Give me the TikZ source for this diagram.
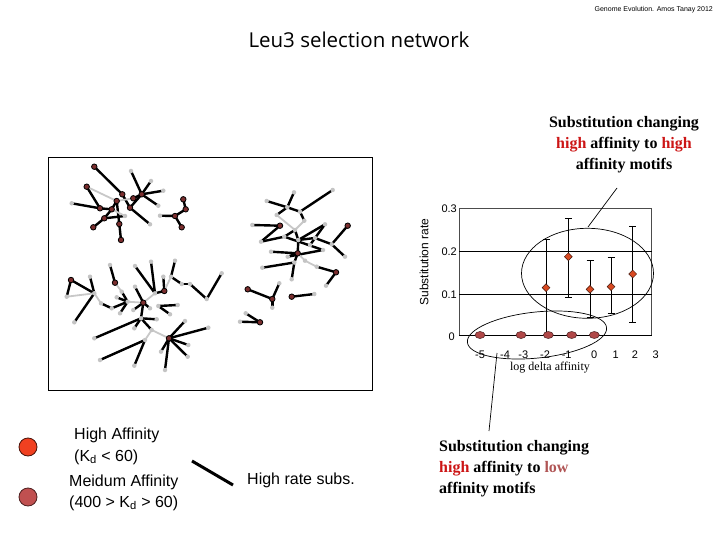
\documentclass[tikz,border=0pt]{standalone}
\usepackage{fontspec}
\setmainfont{Liberation Sans}
\newfontfamily\serifb{Liberation Serif}
\newfontfamily\titlef{Open Sans}
\usetikzlibrary{backgrounds,shapes.geometric}
\definecolor{nodered}{HTML}{7A2E2E}
\definecolor{nodegray}{HTML}{C4C4C4}
\definecolor{edgegray}{HTML}{C8C8C8}
\definecolor{hired}{HTML}{F04020}
\definecolor{medred}{HTML}{C05050}
\definecolor{diam}{HTML}{D84A22}
\definecolor{dotbrown}{HTML}{B04848}
\definecolor{txtred}{HTML}{CC1515}
\definecolor{txtlow}{HTML}{B05555}
\begin{document}
\begin{tikzpicture}[x=1pt,y=-1pt,
  dk/.style={circle,inner sep=0pt,minimum size=5.5pt,fill=nodered,draw=black,line width=0.8pt},
  gr/.style={circle,inner sep=0pt,minimum size=4.5pt,fill=nodegray},
  be/.style={line width=2.4pt,black,shorten <=-1pt,shorten >=-1pt},
  ge/.style={line width=1.8pt,edgegray,shorten <=-1pt,shorten >=-1pt},
  lab/.style={inner sep=0pt,font=\fontsize{16}{19}\selectfont},
  ttl/.style={inner sep=0pt,font=\serifb\bfseries\fontsize{16}{21}\selectfont},
  tick/.style={inner sep=0pt,font=\fontsize{11}{13}\selectfont},
  dia/.style={diamond,inner sep=0pt,minimum size=8pt,fill=diam,draw=black!70!diam,line width=0.5pt},
  bdot/.style={ellipse,inner sep=0pt,minimum width=10pt,minimum height=7pt,fill=dotbrown,draw=black!60!dotbrown,line width=0.5pt},
  err/.style={line width=0.8pt,black}]
\useasboundingbox (0,0) rectangle (720,540);

% header
\node[inner sep=0pt,anchor=east,font=\fontsize{7}{8}\selectfont] (hdr) at (713,10) {Genome Evolution. Amos Tanay 2012};
\node[inner sep=0pt,font=\titlef\fontsize{20.5}{24}\selectfont] (title) at (359,40) {Leu3 selection network};

% network box
\draw[line width=0.8pt] (48,157) rectangle (372,390);

% nodes
\foreach \n/\x/\y in {a1/94.3/166.7,a2/122.3/194.3,a3/86.7/186.7,a4/116.7/201,a5/100/208.3,a6/111.7/209.3,a7/104.3/218.3,a8/93.3/227.3,a9/119.3/224,a10/121/240,a11/133.3/198.3,a12/130/207.7,a13/141.7/194.3,b1/183.3/199.3,b2/185.7/209.3,b3/175/216,b4/181.7/227.3,
c9/280/225.7,c12/347.7/225.7,c19/297.7/253.3,c23/336/272.3,
d1/71/280,d9/115/282.7,d16/143.3/302.7,d22/164.3/291,d38/169/338.3,
e8/247.7/289.3,e9/272.3/299,e12/291.7/296.7,e16/260/322.3}
  \node[dk] (\n) at (\x,\y) {};
\foreach \n/\x/\y in {g1/131/171,g2/151/181,g3/163.3/190.7,g4/158.3/205.7,g5/71.7/203.3,g6/125/216,g7/150/224.3,g8/160/215.7,
c1/294/192.3,c2/332.7/190,c3/266.7/201,c4/287.3/207.3,c5/300/211.7,c6/276.7/215,c7/304.3/220.7,c8/252.3/225,c10/295/230,c11/325/224.3,c13/284.3/236.7,c14/261/241.7,c15/298.3/240,c16/331.7/244.3,c17/345/256.7,c18/271/251.7,c20/287.7/256.7,c21/262.3/267.7,c22/294.3/262.5,c24/323/250,c25/310/245,c26/315/238,
d2/66.7/296.7,d3/94.3/293.3,d4/90/276.7,d5/74.3/322.3,d6/101/303.3,d7/111.7/308.3,d8/110/265,d10/121.7/291.7,d11/116.7/297.3,d12/127.7/301.7,d13/120/313.3,d14/135/266,d15/135/286.7,d17/133.3/310,d18/150/308.3,d19/155/293.3,d20/151/261.7,d21/163.3/276.7,d23/171/276.7,d24/175/260.7,d25/181.7/284,d26/190/284,d27/206.7/299,d28/221.7/273.3,d29/158.3/306,d30/177.7/305,d31/170/314.3,d32/141/318.3,d33/156.7/319.3,d34/134.3/328.3,d35/94.3/338.3,d36/145/340,d37/151.7/330,d39/185/321,d40/208.3/327.7,d41/188.3/345,d42/187.7/356.7,d43/161/351.7,d44/165/370,d45/134.3/365.7,d46/100/360,
e3/291.7/279.3,e4/305/260.7,e5/316.7/266.7,e7/326/285.7,e10/279.3/283.3,e11/272.3/307.7,e13/314.3/294,e14/245.7/313.3,e15/240/321.7}
  \node[gr] (\n) at (\x,\y) {};

\begin{pgfonlayer}{background}
\foreach \u/\v in {a1/a2,a3/a5,g5/a5,a5/a6,a6/a7,a7/g6,a7/a8,a4/a6,a4/a9,a9/a10,a2/a12,a12/g7,a12/a13,a11/a13,a13/g1,a13/g2,a13/g3,a13/g4,
b3/b2,b2/b1,b3/b4,b3/g8,
c1/c4,c3/c4,c4/c6,c4/c5,c5/c2,c5/c7,c8/c9,c9/c14,c14/c13,c13/c10,c10/c15,c15/c11,c11/c25,c26/c15,c12/c16,c16/c17,c16/c26,c18/c19,c19/c15,c13/c24,c24/c20,c20/c19,c21/c22,c22/c19,e5/c23,
c23/e7,e8/e9,e9/e10,e9/e11,e12/e13,e14/e16,e15/e16,c22/e3,
d1/d2,d1/d3,d4/d3,d3/d5,d6/d7,d7/d12,d8/d9,d10/d12,d11/d12,d13/d12,d14/d19,d20/d19,d15/d16,d16/d17,d16/d18,d16/d32,d19/d22,d22/d21,d23/d24,d23/d25,d25/d26,d26/d27,d27/d28,d29/d30,d31/d29,d32/d33,d32/d35,d32/d34,d32/d37,d38/d39,d38/d40,d38/d41,d38/d42,d38/d43,d38/d44,d36/d46,d36/d45}
  \draw[be] (\u) -- (\v);
\foreach \u/\v in {a3/a4,a4/a11,a6/g6,d2/d3,d3/d6,d9/d10,d12/d16,d16/d19,d22/d23,d37/d38,d36/d37,c6/c10,c7/c10,c19/e4,e4/e5}
  \draw[ge] (\u) -- (\v);
\end{pgfonlayer}

% chart
\draw[line width=0.5pt,black!70] (459.3,208.3) rectangle (651.7,335);
\draw[line width=0.8pt] (459.3,251.7) -- (651.7,251.7);
\draw[line width=0.8pt] (459.3,294.3) -- (651.7,294.3);
\draw[line width=1pt] (459.3,335) -- (651.7,335);
\node[tick,anchor=east] (y3) at (457,208.3) {0.3};
\node[tick,anchor=east] (y2) at (457,251.7) {0.2};
\node[tick,anchor=east] (y1) at (457,294.3) {0.1};
\node[tick,anchor=east] (y0) at (455,336.5) {0};
\node[inner sep=0pt,rotate=90,font=\fontsize{12}{14}\selectfont] (ylab) at (424,262) {Substitution rate};
\foreach \n/\x/\t in {xa/480/-5,xb/505/-4,xc/523.3/-3,xd/545/-2,xe/566.7/-1,xf/594.3/0,xg/615.7/1,xh/635/2,xi/655.7/3}
  \node[tick] (\n) at (\x,355) {\t};
\node[inner sep=0pt,font=\serifb\fontsize{12}{14}\selectfont] (xlab) at (550,367.5) {log delta affinity};

% error bars
\draw[err] (546,239) -- (546,335);
\draw[err] (542.5,239) -- (549.5,239);
\foreach \x/\a/\b in {568.3/218.3/297.3,590/260.7/317.7,611/257.3/313.3,632.7/226/322.3}{
  \draw[err] (\x,\a) -- (\x,\b);
  \draw[err] (\x-3.5,\a) -- (\x+3.5,\a);
  \draw[err] (\x-3.5,\b) -- (\x+3.5,\b);
}
\foreach \n/\x/\y in {p1/546/287.7,p2/568.3/256.7,p3/590/289.3,p4/611/286.7,p5/632.7/274}
  \node[dia] (\n) at (\x,\y) {};
\foreach \n/\x in {q1/480,q2/521,q3/548.3,q4/571.7,q5/594.3}
  \node[bdot] (\n) at (\x,335) {};

% ellipses
\draw[line width=0.7pt] (587.5,273.3) ellipse [x radius=66pt,y radius=45pt];
\draw[line width=0.7pt,rotate around={6:(537,335)}] (537,335) ellipse [x radius=70pt,y radius=23pt];

% callouts
\node[ttl,align=center] (tophi) at (624,145) {Substitution changing\\\textcolor{txtred}{high} affinity to \textcolor{txtred}{high}\\affinity motifs};
\node[ttl,align=left,anchor=west] (botlo) at (439,468.5) {Substitution changing\\\textcolor{txtred}{high} affinity to \textcolor{txtlow}{low}\\affinity motifs};
\coordinate (c1s) at (588,227);
\coordinate (c1e) at (617,188);
\draw[line width=0.7pt] (c1s) -- (c1e);
\coordinate (c2s) at (497,353);
\coordinate (c2e) at (489,431);
\draw[line width=0.7pt] (c2s) -- (c2e);

% legend
\node[circle,minimum size=18pt,inner sep=0pt,fill=hired,draw=black!70!hired,line width=0.8pt] (lg1) at (28,447) {};
\node[circle,minimum size=18pt,inner sep=0pt,fill=medred,draw=black!60!medred,line width=0.8pt] (lg2) at (28,497) {};
\node[lab,anchor=west] (t1) at (74,435) {High Affinity};
\node[lab,anchor=west] (t2) at (74,457) {(K\textsubscript{d} < 60)};
\node[lab,anchor=west] (t3) at (69,482) {Meidum Affinity};
\node[lab,anchor=west] (t4) at (69,503) {(400 > K\textsubscript{d} > 60)};
\coordinate (l1) at (192,461);
\coordinate (l2) at (233,485);
\draw[line width=3pt] (l1) -- (l2);
\node[lab,anchor=west] (t5) at (247,480) {High rate subs.};
\end{tikzpicture}
\end{document}
